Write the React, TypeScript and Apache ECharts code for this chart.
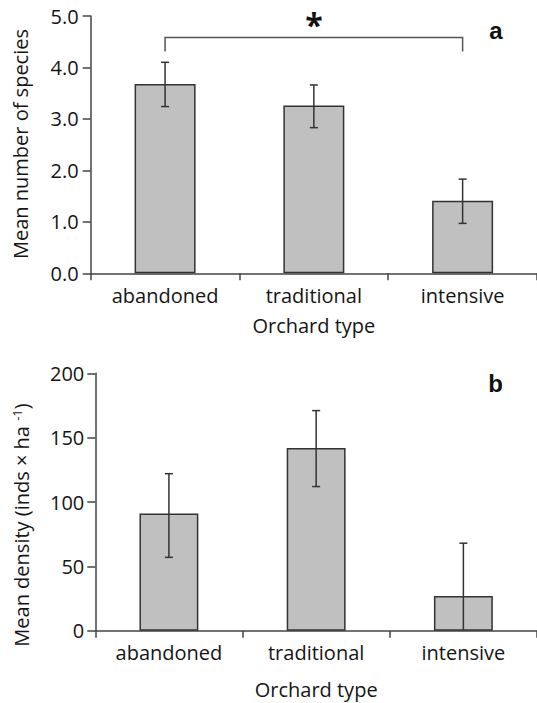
import React, { useEffect, useRef } from "react";
import * as echarts from "echarts";

const categories = ["abandoned", "traditional", "intensive"];

const speciesMean = [3.68, 3.26, 1.41];
const speciesLow = [3.24, 2.83, 0.97];
const speciesHigh = [4.1, 3.66, 1.83];

const densityMean = [91, 142, 27];
const densityLow = [57, 112, 0];
const densityHigh = [122, 171, 68];

// significance bracket between abandoned and intensive (panel a)
const bracketFrom = [0, 4.31];
const bracketTo = [2, 4.31];
const bracketTop = 4.58;
const bracketStarAt = [1, 4.84];
const bracketLabel = "*";

const speciesAxis = { min: 0, max: 5, interval: 1 };
const densityAxis = { min: 0, max: 200, interval: 50 };

const FONT = "Open Sans";
const INK = "#333333";
const AXIS = "#444444";
const TEXT = "#151515";

function errorSeries(xAxisIndex: number, yAxisIndex: number, low: number[], high: number[]) {
  return {
    type: "custom",
    xAxisIndex,
    yAxisIndex,
    z: 5,
    data: categories.map((_, i) => [i, low[i], high[i]]),
    renderItem: (_params: any, api: any) => {
      const x = api.value(0);
      const lo = api.value(1);
      const hi = api.value(2);
      const pHi = api.coord([x, hi]);
      const pLo = api.coord([x, lo]);
      const cap = 4;
      const style = { stroke: INK, lineWidth: 1.5 };
      const children: any[] = [
        { type: "line", shape: { x1: pHi[0], y1: pHi[1], x2: pLo[0], y2: pLo[1] }, style },
        { type: "line", shape: { x1: pHi[0] - cap, y1: pHi[1], x2: pHi[0] + cap, y2: pHi[1] }, style },
      ];
      if (lo > 0) {
        children.push({ type: "line", shape: { x1: pLo[0] - cap, y1: pLo[1], x2: pLo[0] + cap, y2: pLo[1] }, style });
      }
      return { type: "group", children };
    },
  };
}

export default function App() {
  const ref = useRef<HTMLDivElement>(null);
  useEffect(() => {
    if (!ref.current) return;
    const chart = echarts.init(ref.current, null, { renderer: "svg" });
    const axisLine = { show: true, lineStyle: { color: AXIS, width: 1.5 } };
    const xAxisCommon = {
      type: "category",
      data: categories,
      axisLine,
      axisTick: { show: true, length: 7, lineStyle: { color: AXIS, width: 1.5 } },
      axisLabel: { interval: 0, margin: 12, fontFamily: FONT, fontSize: 20, color: TEXT },
      name: "Orchard type",
      nameLocation: "middle",
      nameTextStyle: { fontFamily: FONT, fontSize: 20, color: TEXT },
      splitLine: { show: false },
    };
    const yAxisCommon = {
      type: "value",
      axisLine,
      axisTick: { show: true, length: 8, lineStyle: { color: AXIS, width: 1.5 } },
      splitLine: { show: false },
    };
    chart.setOption({
      animation: false,
      backgroundColor: "#ffffff",
      grid: [
        { left: 90.7, top: 16, width: 450.9, height: 257.3 },
        { left: 95.3, top: 373.3, width: 447, height: 257.4 },
      ],
      xAxis: [
        { ...xAxisCommon, gridIndex: 0, nameGap: 42 },
        { ...xAxisCommon, gridIndex: 1, nameGap: 49 },
      ],
      yAxis: [
        {
          ...yAxisCommon,
          gridIndex: 0,
          ...speciesAxis,
          axisLabel: {
            margin: 12,
            fontFamily: FONT,
            fontSize: 20,
            color: TEXT,
            formatter: (v: number) => v.toFixed(1),
          },
        },
        {
          ...yAxisCommon,
          gridIndex: 1,
          ...densityAxis,
          axisLabel: { margin: 11, fontFamily: FONT, fontSize: 20, color: TEXT },
        },
      ],
      graphic: [
        {
          type: "text",
          x: 20,
          y: 144,
          rotation: Math.PI / 2,
          style: {
            text: "Mean number of species",
            fontFamily: FONT,
            fontSize: 20,
            fill: TEXT,
            align: "center",
            verticalAlign: "middle",
          },
        },
        {
          type: "text",
          x: 21,
          y: 525,
          rotation: Math.PI / 2,
          style: {
            text: "Mean density (inds × ha {sup|-1})",
            fontFamily: FONT,
            fontSize: 20,
            fill: TEXT,
            align: "center",
            verticalAlign: "middle",
            rich: {
              sup: { fontFamily: FONT, fontSize: 13, fill: TEXT, verticalAlign: "top", padding: [0, 0, 8, 0] },
            },
          },
        },
        {
          type: "text",
          x: 496,
          y: 30,
          style: {
            text: "a",
            fontFamily: "Liberation Sans",
            fontWeight: "bold",
            fontSize: 24,
            fill: "#111",
            align: "center",
            verticalAlign: "middle",
          },
        },
        {
          type: "text",
          x: 495.5,
          y: 383,
          style: {
            text: "b",
            fontFamily: "Liberation Sans",
            fontWeight: "bold",
            fontSize: 24,
            fill: "#111",
            align: "center",
            verticalAlign: "middle",
          },
        },
      ],
      series: [
        {
          type: "bar",
          xAxisIndex: 0,
          yAxisIndex: 0,
          data: speciesMean,
          barWidth: "41%",
          itemStyle: { color: "#c0c0c0", borderColor: INK, borderWidth: 1.5 },
        },
        errorSeries(0, 0, speciesLow, speciesHigh),
        {
          type: "custom",
          xAxisIndex: 0,
          yAxisIndex: 0,
          z: 5,
          clip: false,
          data: [[bracketFrom[0], bracketTo[0], bracketFrom[1], bracketTop]],
          renderItem: (_params: any, api: any) => {
            const a = api.coord([api.value(0), api.value(2)]);
            const b = api.coord([api.value(0), api.value(3)]);
            const c = api.coord([api.value(1), api.value(3)]);
            const d = api.coord([api.value(1), api.value(2)]);
            const s = api.coord(bracketStarAt);
            return {
              type: "group",
              children: [
                {
                  type: "polyline",
                  shape: { points: [a, b, c, d] },
                  style: { stroke: "#555", lineWidth: 1.5, fill: "none" },
                },
                {
                  type: "text",
                  x: s[0],
                  y: s[1],
                  style: {
                    text: bracketLabel,
                    fontFamily: FONT,
                    fontWeight: "bold",
                    fontSize: 32,
                    fill: "#111",
                    align: "center",
                    verticalAlign: "middle",
                  },
                },
              ],
            };
          },
        },
        {
          type: "bar",
          xAxisIndex: 1,
          yAxisIndex: 1,
          data: densityMean,
          barWidth: "40%",
          itemStyle: { color: "#c0c0c0", borderColor: INK, borderWidth: 1.5 },
        },
        errorSeries(1, 1, densityLow, densityHigh),
      ],
    });
    return () => chart.dispose();
  }, []);
  return (
    <div style={{ position: "fixed", left: 0, top: 0, width: 537, height: 703, overflow: "hidden", background: "#fff" }}>
      <div ref={ref} style={{ width: 537, height: 703 }} />
    </div>
  );
}
